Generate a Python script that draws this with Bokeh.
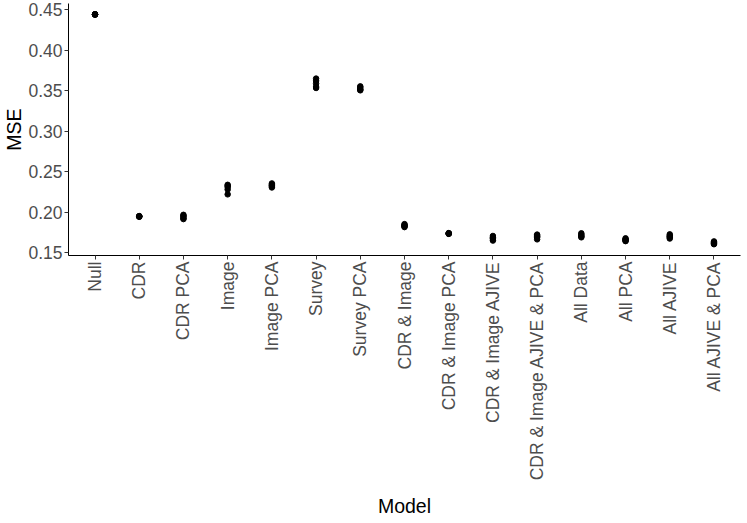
from bokeh.plotting import figure
from bokeh.models import ColumnDataSource, Range1d, FixedTicker, PrintfTickFormatter
from bokeh.embed import file_html
from bokeh.resources import INLINE
import math

models = ["Null", "CDR", "CDR PCA", "Image", "Image PCA", "Survey", "Survey PCA",
          "CDR & Image", "CDR & Image PCA", "CDR & Image AJIVE", "CDR & Image AJIVE & PCA",
          "All Data", "All PCA", "All AJIVE", "All AJIVE & PCA"]

mse_null = [0.4440, 0.4438, 0.4442, 0.4440, 0.4436]
mse_cdr = [0.1948, 0.1944, 0.1952, 0.1946, 0.1950]
mse_cdr_pca = [0.1968, 0.1945, 0.1925, 0.1915, 0.1955]
mse_image = [0.2338, 0.2310, 0.2280, 0.2220, 0.2325]
mse_image_pca = [0.2355, 0.2340, 0.2320, 0.2305, 0.2330]
mse_survey = [0.3648, 0.3620, 0.3586, 0.3545, 0.3532]
mse_survey_pca = [0.3552, 0.3540, 0.3520, 0.3503, 0.3510]
mse_cdr_image = [0.1853, 0.1840, 0.1825, 0.1816, 0.1835]
mse_cdr_image_pca = [0.1742, 0.1737, 0.1733, 0.1740, 0.1735]
mse_cdr_image_ajive = [0.1707, 0.1690, 0.1670, 0.1650, 0.1680]
mse_cdr_image_ajive_pca = [0.1724, 0.1710, 0.1690, 0.1665, 0.1700]
mse_all_data = [0.1740, 0.1725, 0.1710, 0.1690, 0.1700]
mse_all_pca = [0.1678, 0.1665, 0.1650, 0.1643, 0.1660]
mse_all_ajive = [0.1727, 0.1710, 0.1690, 0.1675, 0.1700]
mse_all_ajive_pca = [0.1640, 0.1628, 0.1615, 0.1605, 0.1620]

y_ticks = [0.15, 0.20, 0.25, 0.30, 0.35, 0.40, 0.45]

series = [mse_null, mse_cdr, mse_cdr_pca, mse_image, mse_image_pca, mse_survey,
          mse_survey_pca, mse_cdr_image, mse_cdr_image_pca, mse_cdr_image_ajive,
          mse_cdr_image_ajive_pca, mse_all_data, mse_all_pca, mse_all_ajive,
          mse_all_ajive_pca]

xs, ys = [], []
for i, vals in enumerate(series):
    for v in vals:
        xs.append(i + 1)
        ys.append(v)
src = ColumnDataSource(dict(x=xs, y=ys))

FONT = "Liberation Sans"

p = figure(frame_width=672, frame_height=252, output_backend="svg", toolbar_location=None,
           x_range=Range1d(0.4, len(models) + 0.6), y_range=Range1d(0.1466, 0.4574),
           min_border_left=0, min_border_right=5, min_border_top=3, min_border_bottom=0)
p.outline_line_color = None
p.grid.grid_line_color = None
p.background_fill_color = "white"
p.border_fill_color = "white"

p.scatter("x", "y", source=src, size=5.5, color="black")

p.xaxis.ticker = FixedTicker(ticks=list(range(1, len(models) + 1)))
p.xaxis.major_label_overrides = {i + 1: m for i, m in enumerate(models)}
p.xaxis.major_label_orientation = math.pi / 2
p.yaxis.ticker = FixedTicker(ticks=y_ticks)
p.yaxis.formatter = PrintfTickFormatter(format="%.2f")

for ax in (p.xaxis, p.yaxis):
    ax.axis_line_color = "black"
    ax.axis_line_width = 1
    ax.major_tick_line_color = "#333333"
    ax.major_tick_out = 4
    ax.major_tick_in = 0
    ax.minor_tick_line_color = None
    ax.major_label_text_font = FONT
    ax.major_label_text_font_size = "17.5px"
    ax.major_label_text_color = "#4D4D4D"
    ax.major_label_standoff = 2
    ax.axis_label_text_font = FONT
    ax.axis_label_text_font_size = "19.5px"
    ax.axis_label_text_font_style = "normal"
    ax.axis_label_text_color = "black"

p.xaxis.axis_label = "Model"
p.yaxis.axis_label = "MSE"
p.xaxis.axis_label_standoff = 12
p.yaxis.axis_label_standoff = 0

open("out.html", "w").write(file_html(p, INLINE))
